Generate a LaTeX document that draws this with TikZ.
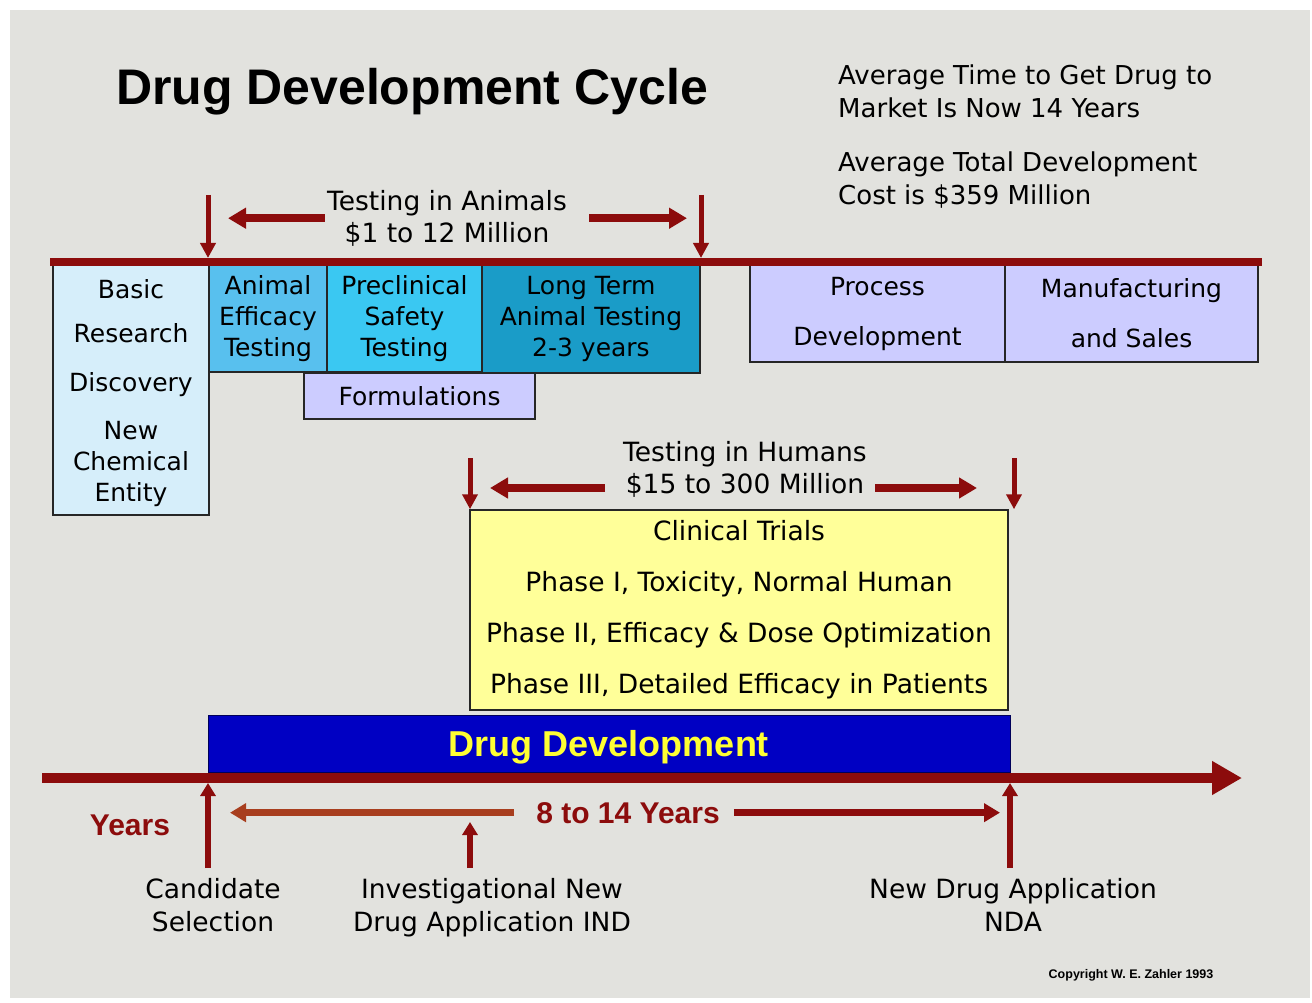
\documentclass[tikz,border=0pt]{standalone}
\usepackage{fontspec}
\setmainfont{DejaVu Sans}
\newfontfamily\headfont{Liberation Sans}
\usetikzlibrary{arrows.meta}
\definecolor{panelgrey}{RGB}{226,226,222}
\definecolor{darkred}{RGB}{140,12,12}
\definecolor{rust}{RGB}{168,62,30}
\definecolor{paleblue}{RGB}{214,238,250}
\definecolor{midblue}{RGB}{88,192,238}
\definecolor{skyblue}{RGB}{58,200,242}
\definecolor{tealblue}{RGB}{26,156,200}
\definecolor{lavender}{RGB}{204,204,255}
\definecolor{paleyellow}{RGB}{255,255,153}
\definecolor{barblue}{RGB}{0,0,195}
\definecolor{baryellow}{RGB}{255,255,51}

\begin{document}
\begin{tikzpicture}[x=1pt, y=-1pt,
    txt/.style={font=\fontsize{26.5}{32}\selectfont, align=center, inner sep=0pt},
    cell/.style={rectangle, draw=black!85, line width=1.5pt, inner sep=0pt, align=center, font=\fontsize{25}{31}\selectfont},
    bar/.style={darkred, line width=8pt},
    downarrow/.style={darkred, line width=5pt, -{Triangle[width=15pt,length=15pt]}},
    sidearrow/.style={darkred, line width=8pt, -{Triangle[width=20pt,length=18pt]}},
    uparrow/.style={darkred, line width=6pt, -{Triangle[width=15pt,length=13pt]}},
    yearlabel/.style={darkred, font=\headfont\fontsize{30}{34}\selectfont\bfseries, inner sep=0pt}
]
    \useasboundingbox (0,0) rectangle (1312,1003);
    \fill[white] (0,0) rectangle (1312,1003);
    \fill[panelgrey] (10,10) rectangle (1310,998);

    \node[font=\headfont\fontsize{50}{56}\selectfont\bfseries, inner sep=0pt, anchor=base] (title) at (412,105) {Drug Development Cycle};
    \node[txt, align=left, anchor=north west, font=\fontsize{26}{33}\selectfont] (time) at (838,65) {Average Time to Get Drug to\\Market Is Now 14 Years};
    \node[txt, align=left, anchor=north west, font=\fontsize{26}{33}\selectfont] (cost) at (838,152) {Average Total Development\\Cost is \$359 Million};

    % preclinical row
    \node[txt, anchor=north] (animals) at (447,190) {Testing in Animals\\\$1 to 12 Million};
    \node[cell, fill=paleblue, minimum width=156pt, minimum height=250pt] (basic) at (131,390) {\rule{0pt}{25pt}Basic\\[13pt]Research\\[18pt]Discovery\\[17pt]New\\Chemical\\Entity};
    \node[cell, fill=lavender, minimum width=231pt, minimum height=46pt] (formul) at (419.5,396) {Formulations};
    \node[cell, fill=midblue, minimum width=118pt, minimum height=107pt] (efficacy) at (268,318.5) {Animal\\Efficacy\\Testing};
    \node[cell, fill=skyblue, minimum width=155pt, minimum height=107pt] (safety) at (404.5,318.5) {Preclinical\\Safety\\Testing};
    \node[cell, fill=tealblue, minimum width=218pt, minimum height=108pt] (longterm) at (591,319) {Long Term\\Animal Testing\\2-3 years};
    \node[cell, fill=lavender, minimum width=255pt, minimum height=97pt] (process) at (877.5,313.5) {Process\\[19pt]Development};
    \node[cell, fill=lavender, minimum width=253pt, minimum height=97pt] (manuf) at (1131.5,313.5) {Manufacturing\\[19pt]and Sales};

    \coordinate (topL) at (50,262);
    \coordinate (topR) at (1262,262);
    \draw[bar] (topL) -- (topR);
    \coordinate (aniStart) at (208,195);
    \coordinate (aniEnd) at (701,195);
    \coordinate (aniLtip) at (228,0);
    \coordinate (aniRtip) at (687,0);
    \draw[downarrow, shorten >=4pt] (aniStart) -- (aniStart |- topL);
    \draw[downarrow, shorten >=4pt] (aniEnd) -- (aniEnd |- topL);
    \draw[sidearrow, shorten <=2pt] (animals.west) -- (animals.west -| aniLtip);
    \draw[sidearrow, shorten <=22pt] (animals.east) -- (animals.east -| aniRtip);

    % clinical row
    \node[txt, anchor=north] (humans) at (745,441) {Testing in Humans\\\$15 to 300 Million};
    \node[cell, fill=paleyellow, minimum width=538pt, minimum height=200pt, font=\fontsize{26.5}{51}\selectfont] (trials) at (739,610) {Clinical Trials\\Phase I, Toxicity, Normal Human\\Phase II, Efficacy \& Dose Optimization\\Phase III, Detailed Efficacy in Patients};
    \coordinate (humStart) at (470,458);
    \coordinate (humEnd) at (1014,458);
    \coordinate (humLfrom) at (605,488);
    \coordinate (humLtip) at (490,488);
    \coordinate (humRfrom) at (875,488);
    \coordinate (humRtip) at (977,488);
    \draw[downarrow] (humStart) -- (humStart |- trials.north);
    \draw[downarrow] (humEnd) -- (humEnd |- trials.north);
    \draw[sidearrow] (humLfrom) -- (humLtip);
    \draw[sidearrow] (humRfrom) -- (humRtip);

    \node[fill=barblue, draw=blue!35!black, line width=1pt, minimum width=802pt, minimum height=57pt, inner sep=0pt, text=baryellow, text depth=0pt, font=\headfont\fontsize{36}{40}\selectfont\bfseries] (devbar) at (609,743.5) {Drug Development};

    % time line
    \coordinate (tlStart) at (42,778);
    \coordinate (tlEnd) at (1242,778);
    \draw[darkred, line width=10pt, -{Triangle[width=32pt,length=30pt]}] (tlStart) -- (tlEnd);

    \node[yearlabel, anchor=base] (years) at (130,835) {Years};
    \node[yearlabel, anchor=base] (span) at (628,823) {8 to 14 Years};
    \coordinate (spanLtip) at (230,0);
    \coordinate (spanRtip) at (1000,0);
    \draw[rust, line width=7pt, -{Triangle[width=18pt,length=16pt]}, shorten <=22pt] (span.west) -- (span.west -| spanLtip);
    \draw[darkred, line width=7pt, -{Triangle[width=18pt,length=16pt]}, shorten <=14pt] (span.east) -- (span.east -| spanRtip);

    \coordinate (candFoot) at (208,868);
    \coordinate (indFoot) at (470,868);
    \coordinate (indTip) at (470,822);
    \coordinate (ndaFoot) at (1010,868);
    \draw[uparrow, shorten >=5pt] (candFoot) -- (candFoot |- tlStart);
    \draw[uparrow] (indFoot) -- (indTip);
    \draw[uparrow, shorten >=5pt] (ndaFoot) -- (ndaFoot |- tlStart);

    \node[txt, anchor=north, font=\fontsize{26.5}{33}\selectfont] (cand) at (213,878) {Candidate\\Selection};
    \node[txt, anchor=north, font=\fontsize{26.5}{33}\selectfont] (ind) at (492,878) {Investigational New\\Drug Application IND};
    \node[txt, anchor=north, font=\fontsize{26.5}{33}\selectfont] (nda) at (1013,878) {New Drug Application\\NDA};

    \node[font=\headfont\fontsize{12.5}{14}\selectfont\bfseries, inner sep=0pt] (copy) at (1131,975) {Copyright W. E. Zahler 1993};
\end{tikzpicture}
\end{document}
